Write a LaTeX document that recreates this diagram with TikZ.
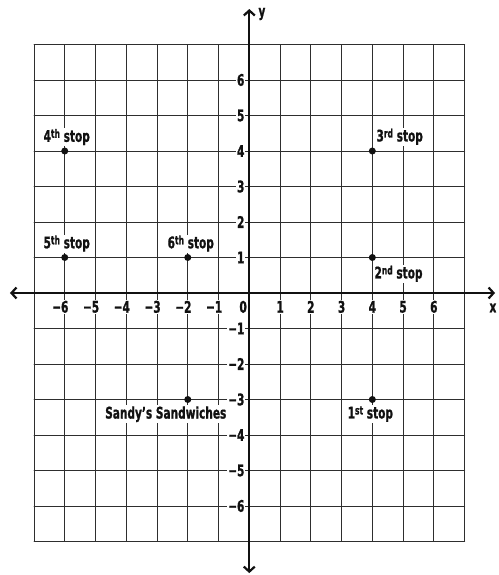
\documentclass[tikz,border=0pt]{standalone}
\usepackage{fontspec}
\setmainfont{DejaVu Sans}[FakeStretch=0.66, FakeBold=1]
\usetikzlibrary{positioning,arrows.meta}
\definecolor{mapInk}{HTML}{111111}
\definecolor{mapGrid}{HTML}{2E2E2E}
\newcommand{\ordsup}[1]{\raisebox{4pt}{\fontsize{11.5}{12}\selectfont #1}}

\begin{document}
\begin{tikzpicture}[x=30.76pt, y=35.5pt, line cap=round,
    font=\bfseries\fontsize{16}{18}\selectfont,
    gridln/.style={mapGrid, line width=0.8pt},
    axisln/.style={mapInk, line width=2.2pt,
      {Straight Barb[length=5pt,width=11pt]}-{Straight Barb[length=5pt,width=11pt]}},
    ticklbl/.style={fill=white, inner sep=1pt, text=mapInk},
    stopdot/.style={circle, fill=mapInk, inner sep=0, minimum size=7pt},
    stoplbl/.style={fill=white, inner sep=1pt, text=mapInk}]

\useasboundingbox (-8.105,-7.944) rectangle (8.118,8.254);

% --- grid ---
\draw[gridln, xstep=1, ystep=1] (-7,-7) grid (7,7);

% --- tick labels ---
\foreach \v in {1,...,6} {
  \node[ticklbl] (xp\v) at (\v,-0.39) {\v};
  \node[ticklbl] (xm\v) at (-\v,-0.39) {\llap{−}\v};
  \node[ticklbl, anchor=east] (yp\v) at (-0.12,\v) {\v};
  \node[ticklbl, anchor=east] (ym\v) at (-0.12,-\v) {−\v};
}
\node[ticklbl] (zero) at (-0.2,-0.39) {0};

% --- axes ---
\coordinate (xL) at (-7.78,0);
\coordinate (xR) at (7.99,0);
\coordinate (yT) at (0,8.0);
\coordinate (yB) at (0,-7.89);
\draw[axisln] (xL) -- (xR);
\draw[axisln] (yB) -- (yT);
\node[text=mapInk, inner sep=0] (xlbl) at (7.92,-0.42) {x};
\node[text=mapInk, inner sep=0] (ylbl) at (0.41,7.86) {y};

% --- stops ---
\node[stopdot] (sandy) at (-2,-3) {};
\node[stoplbl, below=2pt of sandy, xshift=-22pt] (sandyLbl) {Sandy's Sandwiches};

\node[stopdot] (s1) at (4,-3) {};
\node[stoplbl, below=2pt of s1, xshift=-2pt] (s1Lbl) {1\ordsup{st} stop};

\node[stopdot] (s2) at (4,1) {};
\node[stoplbl, anchor=north west, xshift=1pt, yshift=-7pt] (s2Lbl) at (s2)
  {2\ordsup{nd} stop};

\node[stopdot] (s3) at (4,4) {};
\node[stoplbl, anchor=south west, xshift=3pt, yshift=5pt] (s3Lbl) at (s3)
  {3\ordsup{rd} stop};

\node[stopdot] (s4) at (-6,4) {};
\node[stoplbl, above=1pt of s4, xshift=2pt] (s4Lbl) {4\ordsup{th} stop};

\node[stopdot] (s5) at (-6,1) {};
\node[stoplbl, above=1pt of s5, xshift=2pt] (s5Lbl) {5\ordsup{th} stop};

\node[stopdot] (s6) at (-2,1) {};
\node[stoplbl, above=1pt of s6, xshift=3pt] (s6Lbl) {6\ordsup{th} stop};

\end{tikzpicture}
\end{document}
